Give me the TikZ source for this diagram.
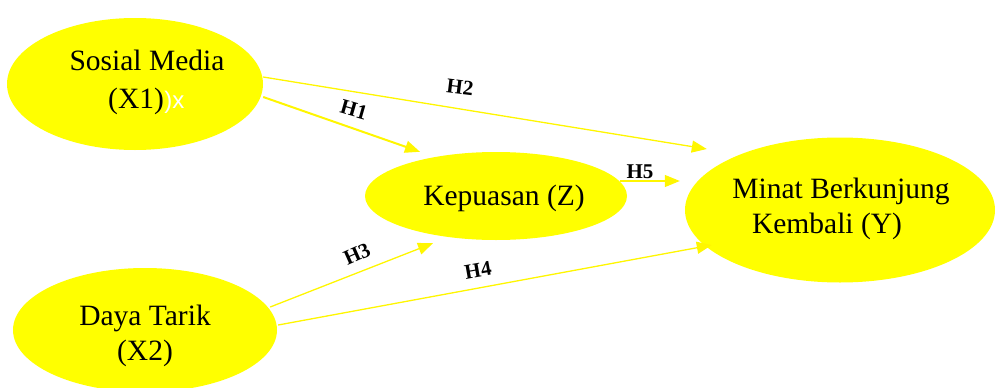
\documentclass[tikz,border=0pt]{standalone}
\usepackage{fontspec}
\setmainfont{Liberation Serif}
\newfontfamily\wsans{Liberation Sans}
\usetikzlibrary{shapes.geometric,arrows.meta,calc}
\definecolor{yel}{RGB}{255,255,0}
\definecolor{lyel}{RGB}{255,246,0}
\tikzset{
  var/.style={ellipse, fill=yel, draw=none, inner sep=0pt},
  txt/.style={anchor=base, inner sep=0pt, font=\fontsize{29.5}{34}\selectfont},
  hyp/.style={inner sep=0pt, font=\bfseries\fontsize{21}{23}\selectfont},
  con/.style={draw=lyel, line width=1.3pt, -{Triangle[length=15pt,width=12pt]}},
}
\begin{document}
\begin{tikzpicture}[x=1pt,y=-1pt]
\useasboundingbox (0,0) rectangle (996,388);
\clip (0,0) rectangle (996,388);
\node[var, minimum width=256pt, minimum height=132pt] (sm) at (135,84) {};
\node[var, minimum width=262pt, minimum height=88pt] (kp) at (496,196) {};
\node[var, minimum width=310pt, minimum height=145pt] (my) at (840,210) {};
\node[var, minimum width=264pt, minimum height=124pt] (dt) at (145,330) {};
% texts
\node[txt] (t1) at (147,70) {Sosial Media};
\node[txt, anchor=base west] (t2) at (108,108) {(X1)};
\node[anchor=base west, inner sep=0pt, text=white, font=\wsans\fontsize{24}{28}\selectfont] (t2w) at (t2.base east) {)x};
\node[txt] (t3) at (504,205) {Kepuasan (Z)};
\node[txt] (t4) at (841,198) {Minat Berkunjung};
\node[txt] (t5) at (827,233) {Kembali (Y)};
\node[txt] (t6) at (145,325) {Daya Tarik};
\node[txt] (t7) at (145,360) {(X2)};
% connectors
\draw[con, line width=2pt] ($(sm.east)+(0,13)$) -- ($(kp.north)+(-76,0)$);
\draw[con] ($(sm.east)+(0,-7)$) -- ($(my.west)+(22,-61)$);
\draw[con] ($(kp.east)+(-7,-15)$) -- ($(my.west)+(-5,-29)$);
\draw[con] ($(dt.east)+(-7,-23)$) -- ($(kp.south)+(-63,3)$);
\draw[con] ($(dt.east)+(1,-5)$) -- ($(my.west)+(27,35)$);
% labels
\node[hyp, rotate=-16] (h1) at (354,110) {H1};
\node[hyp, rotate=-7] (h2) at (460,87) {H2};
\node[hyp, rotate=24] (h3) at (357,254) {H3};
\node[hyp, rotate=10] (h4) at (478,270) {H4};
\node[hyp] (h5) at (640,172) {H5};
\end{tikzpicture}
\end{document}
